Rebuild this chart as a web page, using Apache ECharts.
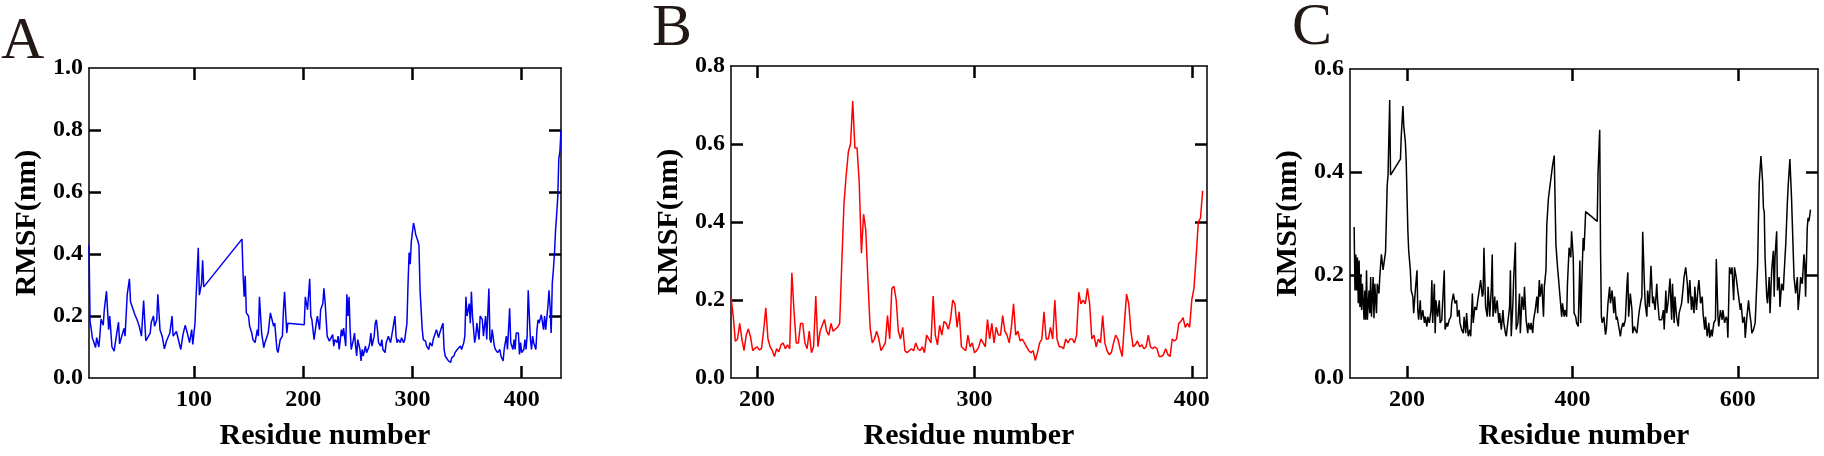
<!DOCTYPE html>
<html>
<head>
<meta charset="utf-8">
<script src="https://cdn.jsdelivr.net/npm/echarts@6/dist/echarts.min.js"></script>
<style>
html,body{margin:0;padding:0;background:#fff;}
#chart{width:1824px;height:456px;}
</style>
</head>
<body>
<div id="chart"></div>
<script>
// ---------- data (residue number, RMSF nm) ----------
const rmsfA = [[4,0.43],[5,0.18],[6,0.16],[7,0.13],[8,0.12],[10,0.098],[11,0.13],[13,0.10],[14,0.14],[15,0.19],[17,0.17],[18,0.22],[20,0.28],[22,0.156],[23,0.20],[25,0.10],[27,0.087],[29,0.135],[31,0.18],[32,0.11],[34,0.135],[36,0.16],[37,0.135],[39,0.27],[41,0.32],[42,0.246],[46,0.204],[48,0.188],[49,0.177],[50,0.167],[52,0.135],[54,0.25],[56,0.12],[57,0.12],[60,0.145],[61,0.18],[63,0.20],[64,0.167],[66,0.188],[67,0.27],[69,0.155],[71,0.135],[73,0.094],[75,0.12],[76,0.114],[78,0.145],[80,0.20],[81,0.135],[82,0.14],[84,0.15],[85,0.145],[88,0.092],[90,0.14],[92,0.17],[94,0.145],[96,0.114],[98,0.156],[99,0.108],[101,0.177],[102,0.262],[104,0.42],[105,0.267],[107,0.305],[108,0.38],[109,0.294],[144,0.448],[145,0.336],[146,0.262],[147,0.33],[148,0.21],[150,0.20],[151,0.167],[153,0.145],[154,0.124],[156,0.114],[158,0.156],[159,0.135],[160,0.262],[162,0.145],[164,0.098],[165,0.114],[167,0.135],[168,0.145],[170,0.21],[171,0.21],[173,0.167],[174,0.177],[176,0.092],[177,0.082],[179,0.124],[181,0.135],[182,0.22],[183,0.278],[185,0.145],[186,0.177],[201,0.172],[202,0.262],[204,0.22],[206,0.32],[207,0.20],[208,0.188],[210,0.124],[212,0.177],[213,0.20],[215,0.156],[216,0.22],[218,0.24],[219,0.289],[220,0.25],[222,0.135],[224,0.119],[225,0.114],[227,0.14],[228,0.103],[229,0.124],[231,0.114],[232,0.135],[233,0.092],[235,0.156],[236,0.135],[237,0.161],[239,0.103],[240,0.27],[241,0.2],[242,0.262],[243,0.156],[244,0.092],[246,0.124],[247,0.145],[248,0.103],[249,0.071],[250,0.124],[252,0.092],[253,0.055],[254,0.092],[255,0.071],[257,0.103],[258,0.082],[260,0.098],[261,0.114],[262,0.145],[263,0.103],[265,0.135],[266,0.177],[267,0.188],[268,0.156],[269,0.114],[271,0.103],[272,0.124],[273,0.092],[275,0.082],[276,0.114],[278,0.135],[280,0.114],[281,0.135],[282,0.156],[284,0.20],[285,0.135],[286,0.114],[287,0.124],[289,0.114],[290,0.13],[292,0.114],[293,0.124],[295,0.177],[296,0.305],[297,0.405],[298,0.367],[299,0.44],[301,0.50],[302,0.484],[303,0.463],[305,0.442],[306,0.427],[307,0.283],[309,0.156],[310,0.124],[312,0.119],[313,0.103],[315,0.092],[316,0.114],[318,0.103],[319,0.124],[321,0.145],[322,0.156],[324,0.13],[325,0.145],[327,0.167],[328,0.177],[329,0.092],[330,0.071],[331,0.066],[333,0.055],[335,0.050],[336,0.066],[338,0.071],[339,0.082],[341,0.092],[342,0.092],[344,0.103],[345,0.092],[347,0.114],[348,0.135],[349,0.262],[350,0.2],[352,0.24],[353,0.177],[354,0.278],[355,0.2],[357,0.114],[358,0.135],[359,0.177],[361,0.124],[362,0.2],[364,0.188],[365,0.135],[367,0.2],[368,0.124],[370,0.289],[371,0.124],[372,0.114],[373,0.156],[375,0.103],[376,0.092],[378,0.082],[380,0.092],[381,0.071],[383,0.055],[384,0.092],[385,0.114],[386,0.135],[387,0.092],[389,0.225],[390,0.114],[392,0.092],[393,0.124],[394,0.092],[395,0.145],[397,0.145],[398,0.076],[399,0.114],[400,0.082],[402,0.092],[403,0.124],[404,0.092],[405,0.135],[406,0.283],[408,0.124],[409,0.092],[410,0.135],[411,0.114],[413,0.092],[414,0.156],[415,0.188],[416,0.177],[418,0.204],[419,0.21],[420,0.156],[421,0.2],[422,0.156],[424,0.23],[425,0.283],[426,0.23],[427,0.145],[428,0.305],[429,0.348],[430,0.4],[431,0.474],[433,0.58],[434,0.708],[435,0.73],[436,0.80]];

const rmsfB = [[188,0.207],[189,0.16],[190,0.094],[191,0.10],[192,0.14],[193,0.10],[194,0.07],[195,0.11],[196,0.126],[197,0.105],[198,0.07],[199,0.076],[200,0.08],[201,0.072],[202,0.075],[203,0.12],[204,0.18],[205,0.10],[206,0.08],[207,0.07],[208,0.055],[209,0.075],[210,0.067],[211,0.085],[212,0.09],[213,0.075],[214,0.085],[215,0.075],[216,0.27],[217,0.17],[218,0.09],[219,0.09],[220,0.14],[221,0.14],[222,0.09],[223,0.075],[224,0.12],[225,0.065],[226,0.08],[227,0.21],[228,0.08],[229,0.12],[230,0.135],[231,0.15],[232,0.12],[233,0.11],[234,0.14],[235,0.12],[236,0.125],[237,0.13],[238,0.14],[239,0.30],[240,0.45],[241,0.52],[242,0.58],[243,0.60],[244,0.71],[245,0.59],[246,0.59],[247,0.50],[248,0.32],[249,0.42],[250,0.38],[251,0.25],[252,0.13],[253,0.09],[254,0.10],[255,0.12],[256,0.10],[257,0.07],[258,0.08],[259,0.09],[260,0.16],[261,0.10],[262,0.23],[263,0.235],[264,0.20],[265,0.12],[266,0.10],[267,0.13],[268,0.07],[269,0.065],[270,0.07],[271,0.075],[272,0.07],[273,0.09],[274,0.075],[275,0.07],[276,0.08],[277,0.065],[278,0.11],[279,0.10],[280,0.09],[281,0.21],[282,0.11],[283,0.085],[284,0.135],[285,0.11],[286,0.145],[287,0.14],[288,0.125],[289,0.15],[290,0.20],[291,0.19],[292,0.13],[293,0.17],[294,0.08],[295,0.075],[296,0.07],[297,0.11],[298,0.08],[299,0.09],[300,0.065],[301,0.07],[302,0.08],[303,0.10],[304,0.09],[305,0.08],[306,0.15],[307,0.10],[308,0.14],[309,0.09],[310,0.13],[311,0.11],[312,0.11],[313,0.16],[314,0.12],[315,0.11],[316,0.09],[317,0.13],[318,0.19],[319,0.11],[320,0.12],[321,0.095],[322,0.10],[323,0.09],[324,0.08],[325,0.07],[326,0.065],[327,0.07],[328,0.045],[329,0.065],[330,0.09],[331,0.10],[332,0.17],[333,0.10],[334,0.10],[335,0.13],[336,0.10],[337,0.20],[338,0.10],[339,0.08],[340,0.08],[341,0.075],[342,0.10],[343,0.09],[344,0.10],[345,0.10],[346,0.09],[347,0.11],[348,0.22],[349,0.19],[350,0.20],[351,0.19],[352,0.23],[353,0.19],[354,0.10],[355,0.11],[356,0.08],[357,0.10],[358,0.09],[359,0.16],[360,0.09],[361,0.07],[362,0.06],[363,0.065],[364,0.09],[365,0.11],[366,0.10],[367,0.075],[368,0.055],[369,0.14],[370,0.215],[371,0.19],[372,0.12],[373,0.08],[374,0.085],[375,0.095],[376,0.08],[377,0.085],[378,0.075],[379,0.08],[380,0.11],[381,0.08],[382,0.075],[383,0.08],[384,0.075],[385,0.055],[386,0.055],[387,0.06],[388,0.075],[389,0.06],[390,0.055],[391,0.10],[392,0.095],[393,0.10],[394,0.14],[395,0.145],[396,0.155],[397,0.13],[398,0.14],[399,0.13],[400,0.20],[401,0.23],[402,0.31],[403,0.40],[404,0.41],[405,0.48]];

const rmsfC = [[136,0.293],[137,0.17],[138,0.24],[139,0.17],[140,0.234],[141,0.145],[142,0.228],[143,0.138],[144,0.2],[145,0.132],[146,0.183],[148,0.113],[149,0.17],[150,0.113],[151,0.209],[152,0.113],[154,0.17],[155,0.126],[156,0.196],[157,0.119],[159,0.196],[160,0.116],[161,0.183],[163,0.126],[164,0.183],[166,0.164],[167,0.196],[169,0.24],[171,0.21],[174,0.245],[176,0.375],[177,0.394],[179,0.54],[180,0.394],[192,0.425],[193,0.47],[195,0.528],[196,0.49],[198,0.457],[199,0.42],[200,0.35],[201,0.285],[202,0.247],[204,0.209],[205,0.17],[207,0.158],[208,0.126],[210,0.17],[212,0.209],[213,0.132],[214,0.113],[216,0.151],[217,0.113],[219,0.132],[221,0.107],[222,0.119],[224,0.1],[225,0.119],[227,0.107],[229,0.132],[230,0.19],[231,0.107],[233,0.183],[234,0.087],[235,0.151],[237,0.119],[239,0.151],[240,0.107],[242,0.113],[243,0.145],[245,0.209],[246,0.094],[248,0.107],[249,0.1],[251,0.113],[253,0.119],[254,0.145],[256,0.164],[258,0.145],[260,0.151],[261,0.119],[263,0.132],[264,0.107],[266,0.094],[268,0.087],[269,0.119],[271,0.087],[272,0.126],[274,0.081],[276,0.094],[277,0.081],[279,0.164],[280,0.107],[282,0.138],[284,0.132],[285,0.145],[287,0.145],[289,0.19],[291,0.158],[292,0.164],[293,0.253],[295,0.138],[297,0.119],[298,0.177],[300,0.119],[302,0.177],[303,0.24],[304,0.119],[306,0.158],[307,0.126],[309,0.151],[311,0.107],[312,0.126],[314,0.094],[316,0.132],[317,0.107],[319,0.087],[320,0.081],[322,0.081],[324,0.138],[325,0.209],[326,0.081],[328,0.145],[329,0.196],[331,0.263],[332,0.094],[334,0.107],[336,0.164],[337,0.087],[339,0.158],[341,0.132],[342,0.177],[344,0.113],[346,0.087],[347,0.107],[349,0.094],[350,0.107],[352,0.087],[353,0.113],[355,0.132],[357,0.158],[358,0.126],[360,0.19],[361,0.158],[363,0.183],[365,0.119],[366,0.177],[368,0.209],[369,0.298],[371,0.349],[373,0.375],[376,0.413],[378,0.432],[380,0.26],[382,0.215],[383,0.196],[385,0.158],[387,0.119],[388,0.145],[390,0.119],[391,0.132],[393,0.119],[394,0.183],[396,0.253],[398,0.234],[399,0.285],[401,0.234],[402,0.126],[404,0.119],[405,0.107],[407,0.1],[409,0.228],[410,0.107],[412,0.221],[413,0.272],[414,0.247],[416,0.323],[430,0.304],[431,0.4],[433,0.482],[434,0.247],[435,0.119],[436,0.107],[438,0.119],[440,0.084],[441,0.094],[443,0.145],[445,0.177],[446,0.145],[448,0.17],[450,0.126],[451,0.158],[453,0.113],[454,0.119],[456,0.1],[458,0.081],[459,0.094],[461,0.107],[462,0.1],[464,0.113],[466,0.183],[467,0.205],[468,0.119],[470,0.164],[472,0.132],[473,0.087],[475,0.1],[476,0.094],[478,0.087],[480,0.119],[481,0.132],[483,0.151],[484,0.158],[485,0.284],[487,0.183],[488,0.145],[490,0.119],[491,0.17],[493,0.138],[495,0.218],[497,0.145],[498,0.158],[500,0.132],[502,0.183],[503,0.151],[505,0.113],[507,0.113],[508,0.113],[510,0.132],[511,0.094],[513,0.17],[514,0.126],[516,0.151],[518,0.193],[520,0.113],[521,0.183],[523,0.107],[524,0.158],[526,0.119],[528,0.1],[529,0.126],[531,0.138],[532,0.145],[534,0.177],[535,0.196],[537,0.215],[539,0.183],[540,0.145],[542,0.19],[544,0.132],[545,0.158],[547,0.126],[548,0.177],[550,0.132],[552,0.177],[553,0.19],[555,0.145],[557,0.158],[558,0.126],[560,0.094],[561,0.119],[563,0.081],[565,0.107],[566,0.078],[568,0.094],[569,0.081],[571,0.107],[573,0.113],[574,0.231],[576,0.119],[577,0.1],[579,0.132],[581,0.113],[582,0.132],[584,0.107],[586,0.119],[587,0.113],[588,0.078],[590,0.215],[592,0.202],[593,0.215],[595,0.151],[596,0.215],[598,0.196],[600,0.17],[601,0.158],[603,0.132],[604,0.145],[606,0.107],[608,0.119],[609,0.078],[611,0.119],[613,0.151],[614,0.132],[616,0.107],[617,0.087],[619,0.094],[621,0.107],[622,0.145],[624,0.221],[625,0.311],[626,0.381],[628,0.431],[630,0.381],[631,0.33],[632,0.323],[633,0.234],[635,0.158],[636,0.145],[638,0.196],[639,0.126],[641,0.209],[643,0.247],[644,0.158],[645,0.234],[647,0.285],[648,0.17],[650,0.196],[651,0.138],[653,0.183],[655,0.17],[656,0.202],[658,0.26],[660,0.343],[661,0.375],[663,0.425],[664,0.422],[665,0.349],[667,0.247],[668,0.196],[670,0.164],[672,0.196],[673,0.132],[675,0.17],[676,0.196],[678,0.183],[680,0.24],[681,0.221],[682,0.158],[684,0.292],[685,0.311],[686,0.304],[688,0.327]];

// tick values
const xTicksA = [100, 200, 300, 400];
const xTicksB = [200, 300, 400];
const xTicksC = [200, 400, 600];
const yLabelsA = [0, 0.2, 0.4, 0.6, 0.8, 1.0];
const yLabelsB = [0, 0.2, 0.4, 0.6, 0.8];
const yLabelsC = [0, 0.2, 0.4, 0.6];
const panelLetters = ['A', 'B', 'C'];
const xName = 'Residue number';
const yName = 'RMSF(nm)';

// ---------- layout / style ----------
const FONT = "'Liberation Serif','Times New Roman',serif";
const panels = [
  {grid:{left:89, top:68, width:472, height:315}, xMin:4, xMax:436, yMax:1.0, xTicks:xTicksA, yLabels:yLabelsA, data:rmsfA, color:'#0000ee', letter:{left:1, top:12}},
  {grid:{left:731, top:66, width:476, height:318}, xMin:188, xMax:407, yMax:0.8, xTicks:xTicksB, yLabels:yLabelsB, data:rmsfB, color:'#ff0000', letter:{left:652, top:-1}},
  {grid:{left:1350, top:69, width:468, height:313}, xMin:131, xMax:697, yMax:0.6, xTicks:xTicksC, yLabels:yLabelsC, data:rmsfC, color:'#000000', letter:{left:1292, top:-2}}
];

const lineStyle = {color:'#000', width:1.5};
const tickStyle = {color:'#000', width:2.5};
const labelFont = {fontFamily:FONT, fontWeight:'bold', fontSize:24, color:'#000'};
const nameFont = {fontFamily:FONT, fontWeight:'bold', fontSize:30, color:'#000'};

const grids = [], xAxes = [], yAxes = [], series = [], titles = [];
panels.forEach((p, i) => {
  grids.push(Object.assign({containLabel:false}, p.grid));
  const inner = p.yLabels.filter(v => v > 0 && v < p.yMax);
  // bottom x
  xAxes.push({
    type:'value', gridIndex:i, position:'bottom', min:p.xMin, max:p.xMax,
    axisLine:{show:true, onZero:false, lineStyle:lineStyle},
    axisTick:{show:true, inside:true, length:12, lineStyle:tickStyle, customValues:p.xTicks},
    axisLabel:Object.assign({show:true, margin:10, customValues:p.xTicks}, labelFont),
    splitLine:{show:false},
    name:xName, nameLocation:'middle', nameGap:43, nameTextStyle:nameFont
  });
  // top x
  xAxes.push({
    type:'value', gridIndex:i, position:'top', min:p.xMin, max:p.xMax,
    axisLine:{show:true, onZero:false, lineStyle:lineStyle},
    axisTick:{show:true, inside:true, length:12, lineStyle:tickStyle, customValues:p.xTicks},
    axisLabel:{show:false}, splitLine:{show:false}
  });
  // left y
  yAxes.push({
    type:'value', gridIndex:i, position:'left', min:0, max:p.yMax,
    axisLine:{show:true, onZero:false, lineStyle:lineStyle},
    axisTick:{show:true, inside:true, length:12, lineStyle:tickStyle, customValues:inner},
    axisLabel:Object.assign({show:true, margin:6, customValues:p.yLabels, formatter:v => Number(v).toFixed(1)}, labelFont),
    splitLine:{show:false},
    name:yName, nameLocation:'middle', nameGap:47, nameRotate:90, nameTextStyle:nameFont
  });
  // right y
  yAxes.push({
    type:'value', gridIndex:i, position:'right', min:0, max:p.yMax,
    axisLine:{show:true, onZero:false, lineStyle:lineStyle},
    axisTick:{show:true, inside:true, length:12, lineStyle:tickStyle, customValues:inner},
    axisLabel:{show:false}, splitLine:{show:false}
  });
  series.push({
    type:'line', xAxisIndex:2*i, yAxisIndex:2*i, data:p.data,
    showSymbol:false, symbol:'none', smooth:false,
    lineStyle:{color:p.color, width:1.5}, itemStyle:{color:p.color},
    silent:true, animation:false, z:1
  });
  titles.push({
    text:panelLetters[i], left:p.letter.left, top:p.letter.top, padding:0,
    textStyle:{fontFamily:FONT, fontWeight:'normal', fontSize:60, color:'#231815'}
  });
});

const chart = echarts.init(document.getElementById('chart'), null, {renderer:'canvas'});
chart.setOption({
  animation:false,
  backgroundColor:'#ffffff',
  title:titles,
  grid:grids,
  xAxis:xAxes,
  yAxis:yAxes,
  series:series
});
</script>
</body>
</html>
